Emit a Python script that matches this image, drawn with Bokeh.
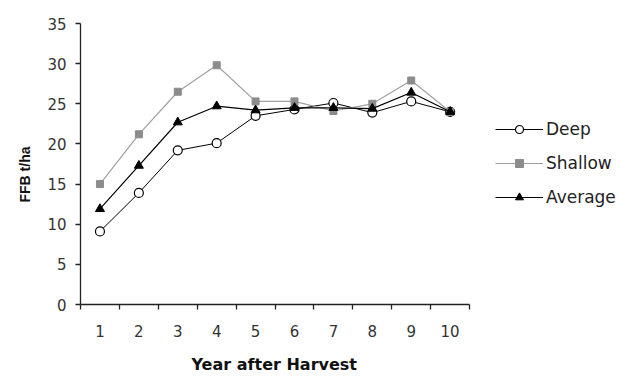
from bokeh.plotting import figure
from bokeh.models import Range1d, FixedTicker, Legend, LegendItem, Title
from bokeh.embed import file_html
from bokeh.resources import INLINE

years = [1, 2, 3, 4, 5, 6, 7, 8, 9, 10]
deep = [9.1, 13.9, 19.2, 20.1, 23.5, 24.3, 25.1, 23.9, 25.3, 24.0]
shallow = [15.0, 21.2, 26.5, 29.8, 25.3, 25.3, 24.1, 25.0, 27.9, 24.0]
average = [11.9, 17.3, 22.7, 24.7, 24.2, 24.5, 24.5, 24.4, 26.4, 24.0]
y_ticks = [0, 5, 10, 15, 20, 25, 30, 35]
x_title = "Year after Harvest"
y_title = "FFB t/ha"

TICK_FONT = "DejaVu Sans"

# frame spans the legend area too; the x axis itself is bounded to the 10 years
p = figure(width=622, height=376, output_backend="svg", toolbar_location=None,
           x_range=Range1d(0.5, 14.43), y_range=Range1d(0, 35),
           frame_width=542, frame_height=281,
           min_border_left=80, min_border_top=23, min_border_bottom=0, min_border_right=0)
p.grid.visible = False
p.outline_line_color = None
p.background_fill_color = "white"
p.border_fill_color = "white"

p.xaxis.bounds = (0.5, 10.5)
p.xaxis.ticker = FixedTicker(ticks=years, minor_ticks=[y + 0.5 for y in [0] + years])
p.xaxis.major_tick_line_color = None
p.xaxis.major_tick_in = 0
p.xaxis.major_tick_out = 5
p.xaxis.minor_tick_in = 0
p.xaxis.minor_tick_out = 5
p.xaxis.minor_tick_line_color = "#222222"
p.xaxis.minor_tick_line_width = 1.3
p.xaxis.major_label_standoff = 15

p.yaxis.ticker = FixedTicker(ticks=y_ticks, minor_ticks=[])
p.yaxis.major_tick_in = 0
p.yaxis.major_tick_out = 5
p.yaxis.major_tick_line_color = "#222222"
p.yaxis.major_tick_line_width = 1.3
p.yaxis.major_label_standoff = 9

for ax in (p.xaxis, p.yaxis):
    ax.axis_line_color = "#222222"
    ax.axis_line_width = 1.3
    ax.major_label_text_font = TICK_FONT
    ax.major_label_text_font_size = "15px"
    ax.major_label_text_color = "#333333"

xt = Title(text=x_title, align="left", offset=111, standoff=27,
           text_font="DejaVu Sans", text_font_size="16px", text_font_style="bold",
           text_color="#111111")
p.add_layout(xt, "below")
yt = Title(text=y_title, align="left", offset=102, standoff=23,
           text_font="Liberation Sans", text_font_size="14px", text_font_style="bold",
           text_color="#111111")
p.add_layout(yt, "left")

l1 = p.line(years, deep, line_color="black", line_width=1)
s1 = p.scatter(years, deep, marker="circle", size=9, fill_color="white", line_color="black", line_width=1.2)
l2 = p.line(years, shallow, line_color="#a0a0a0", line_width=1.2)
s2 = p.scatter(years, shallow, marker="square", size=7, fill_color="#8c8c8c", line_color="#8c8c8c")
l3 = p.line(years, average, line_color="black", line_width=1.2)
s3 = p.scatter(years, average, marker="triangle", size=9, fill_color="black", line_color="black")

legend = Legend(items=[
    LegendItem(label="Deep", renderers=[l1, s1]),
    LegendItem(label="Shallow", renderers=[l2, s2]),
    LegendItem(label="Average", renderers=[l3, s3]),
], location=(415, 97))
legend.border_line_color = None
legend.background_fill_alpha = 0
legend.padding = 0
legend.margin = 0
legend.spacing = 14
legend.glyph_width = 48
legend.glyph_height = 20
legend.label_height = 20
legend.label_standoff = 3
legend.label_text_font = "DejaVu Sans"
legend.label_text_font_size = "17px"
legend.label_text_color = "#222222"
p.add_layout(legend, "center")

open("out.html", "w").write(file_html(p, INLINE))
